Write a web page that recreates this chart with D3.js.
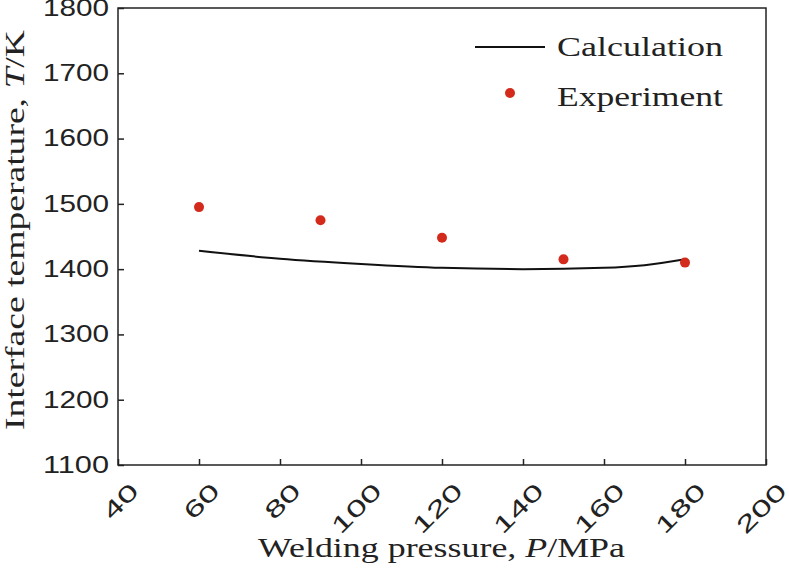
<!DOCTYPE html>
<html><head><meta charset="utf-8">
<script src="https://cdn.jsdelivr.net/npm/d3@7"></script>
<style>body{margin:0;background:#fff}</style></head>
<body><svg id="c" width="789" height="569"></svg>
<script>
const xTicks=[40,60,80,100,120,140,160,180,200];
const yTicks=[1100,1200,1300,1400,1500,1600,1700,1800];
const expP=[60,90,120,150,180];
const expT=[1495,1475,1448,1415,1410];
const calcP=[60,80,100,120,140,160,170,180];
const calcT=[1428,1416,1408,1402,1400,1402,1406,1415];

const svg=d3.select("#c");
const m={l:118,r:23,t:8,b:104};
const W=789,H=569;
const x=d3.scaleLinear().domain([40,200]).range([m.l,W-m.r]);
const y=d3.scaleLinear().domain([1100,1800]).range([H-m.b,m.t]);
const sans="Liberation Sans, Arial, sans-serif", serif="Liberation Serif, Times New Roman, serif";
const stretch=(sel,w)=>sel.attr("textLength",w).attr("lengthAdjust","spacingAndGlyphs");

const gx=svg.append("g").attr("transform",`translate(0,${H-m.b})`)
 .call(d3.axisBottom(x).tickValues(xTicks).tickSize(-6));
gx.selectAll("text").attr("font-family",sans).attr("font-size",23).attr("fill","#222")
 .attr("text-anchor","end").attr("x",0).attr("y",0).attr("dy","0.35em")
 .attr("transform","translate(16,22) rotate(-45)")
 .each(function(d){stretch(d3.select(this),String(d).length*20);});
const gy=svg.append("g").attr("transform",`translate(${m.l},0)`)
 .call(d3.axisLeft(y).tickValues(yTicks).tickSize(-6).tickPadding(9).tickFormat(d3.format("d")));
gy.selectAll("text").attr("font-family",sans).attr("font-size",23).attr("fill","#222")
 .each(function(){stretch(d3.select(this),66);});
svg.selectAll(".domain").remove();
svg.selectAll(".tick line").attr("stroke","#222").attr("stroke-width",1.5);
svg.append("rect").attr("x",m.l).attr("y",m.t).attr("width",W-m.r-m.l).attr("height",H-m.b-m.t)
 .attr("fill","none").attr("stroke","#222").attr("stroke-width",1.5);

const line=d3.line().x(d=>x(d[0])).y(d=>y(d[1])).curve(d3.curveMonotoneX);
svg.append("path").datum(calcP.map((p,i)=>[p,calcT[i]])).attr("d",line)
 .attr("fill","none").attr("stroke","#111").attr("stroke-width",2);
svg.selectAll("circle.e").data(expP).enter().append("circle")
 .attr("cx",d=>x(d)).attr("cy",(d,i)=>y(expT[i])).attr("r",5).attr("fill","#d42a1c");

// legend
svg.append("line").attr("x1",475).attr("x2",545).attr("y1",47).attr("y2",47).attr("stroke","#111").attr("stroke-width",2);
stretch(svg.append("text").attr("x",557).attr("y",56).text("Calculation").attr("font-family",serif).attr("font-size",27).attr("fill","#222"),166);
svg.append("circle").attr("cx",510).attr("cy",93).attr("r",5).attr("fill","#d42a1c");
stretch(svg.append("text").attr("x",557).attr("y",106).text("Experiment").attr("font-family",serif).attr("font-size",27).attr("fill","#222"),166);

const xt=svg.append("text").attr("x",258).attr("y",557)
 .attr("font-family",serif).attr("font-size",27).attr("fill","#222");
xt.append("tspan").text("Welding pressure, ");
xt.append("tspan").attr("font-style","italic").text("P");
xt.append("tspan").text("/MPa");
stretch(xt,367);
const yt=svg.append("text").attr("transform",`translate(24,430) rotate(-90)`)
 .attr("font-family",serif).attr("font-size",27).attr("fill","#222");
yt.append("tspan").text("Interface temperature, ");
yt.append("tspan").attr("font-style","italic").text("T");
yt.append("tspan").text("/K");
stretch(yt,400);
</script></body></html>
